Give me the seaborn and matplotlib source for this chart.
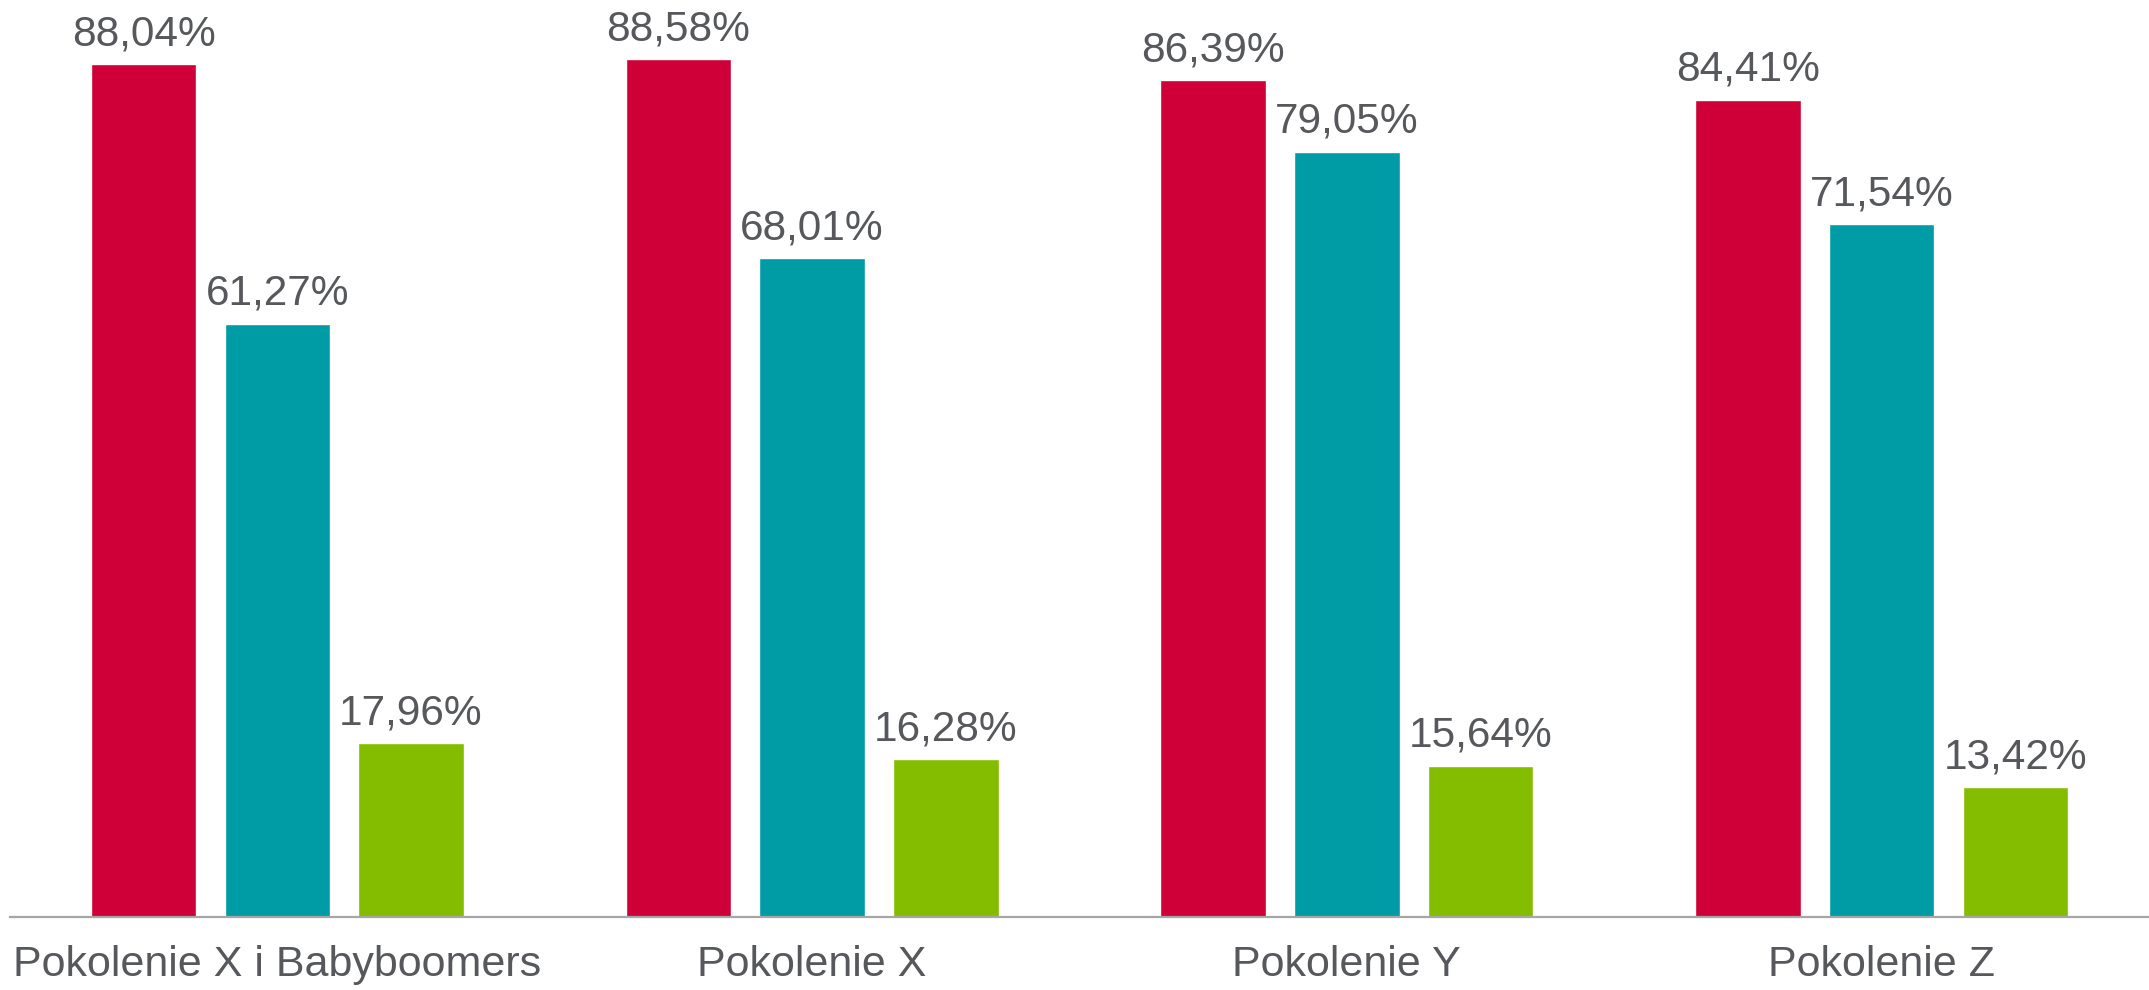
import matplotlib
matplotlib.use("Agg")
import matplotlib.pyplot as plt
import seaborn as sns
import pandas as pd

categories = ["Pokolenie X i Babyboomers", "Pokolenie X", "Pokolenie Y", "Pokolenie Z"]
series_names = ["Seria 1", "Seria 2", "Seria 3"]
series_1 = [88.04, 88.58, 86.39, 84.41]
series_2 = [61.27, 68.01, 79.05, 71.54]
series_3 = [17.96, 16.28, 15.64, 13.42]
colors = ["#CE0037", "#009CA6", "#84BD00"]

rows = []
for name, vals in zip(series_names, [series_1, series_2, series_3]):
    for cat, v in zip(categories, vals):
        rows.append({"kategoria": cat, "seria": name, "wartosc": v})
df = pd.DataFrame(rows)

sns.set_theme(style="white")
plt.rcParams["font.family"] = ["Liberation Sans", "DejaVu Sans"]
text_color = "#56585B"

fig = plt.figure(figsize=(21.49, 9.90), dpi=100)
ax = fig.add_axes([10 / 2149, 73 / 990, 2139 / 2149, 917 / 990])

sns.barplot(data=df, x="kategoria", y="wartosc", hue="seria", order=categories,
            hue_order=series_names, palette=colors, width=0.75, gap=0.21,
            saturation=1, legend=False, ax=ax, errorbar=None)

# value labels above each bar, decimal comma
for cont, vals in zip(ax.containers, [series_1, series_2, series_3]):
    labels = [f"{v:.2f}".replace(".", ",") + "%" for v in vals]
    ax.bar_label(cont, labels=labels, padding=7, fontsize=30.5, color=text_color,
                 clip_on=False)

ax.set_xlim(-0.5, 3.5)
ax.set_ylim(0, 94.7)
ax.set_xlabel("")
ax.set_ylabel("")
ax.set_yticks([])
for s in ["top", "left", "right"]:
    ax.spines[s].set_visible(False)
ax.spines["bottom"].set_color("#A6A6A6")
ax.spines["bottom"].set_linewidth(1.6)
ax.tick_params(axis="x", length=0, pad=20, labelsize=31, labelcolor=text_color)

fig.savefig("out.png", dpi=100)
